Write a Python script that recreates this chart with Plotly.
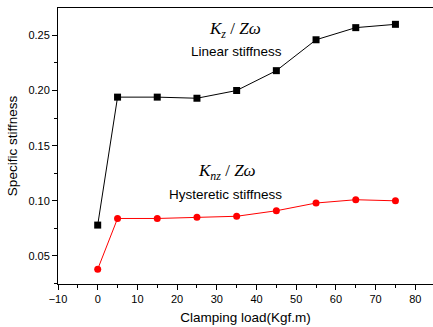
import plotly.graph_objects as go

clamping_load = [0, 5, 15, 25, 35, 45, 55, 65, 75]
linear_stiffness = [0.078, 0.194, 0.194, 0.193, 0.200, 0.218, 0.246, 0.257, 0.260]
hysteretic_stiffness = [0.038, 0.084, 0.084, 0.085, 0.086, 0.091, 0.098, 0.101, 0.100]
x_ticks = [-10, 0, 10, 20, 30, 40, 50, 60, 70, 80]
y_ticks = [0.05, 0.10, 0.15, 0.20, 0.25]

fig = go.Figure()
fig.add_trace(go.Scatter(x=clamping_load, y=linear_stiffness, mode="lines+markers",
                         line=dict(color="black", width=1),
                         marker=dict(symbol="square", size=7, color="black"),
                         name="Linear stiffness", showlegend=False))
fig.add_trace(go.Scatter(x=clamping_load, y=hysteretic_stiffness, mode="lines+markers",
                         line=dict(color="#ff0000", width=1),
                         marker=dict(symbol="circle", size=7, color="#ff0000"),
                         name="Hysteretic stiffness", showlegend=False))

serif = "Liberation Serif, Times New Roman, serif"
sans = "Liberation Sans, Arial, sans-serif"
fig.add_annotation(x=34.5, y=0.2552, text="<i>K</i><sub><i>z</i></sub> / <i>Zω</i>",
                   showarrow=False, font=dict(family=serif, size=17, color="black"))
fig.add_annotation(x=35.0, y=0.2352, text="Linear stiffness",
                   showarrow=False, font=dict(family=sans, size=13.5, color="black"))
fig.add_annotation(x=32.5, y=0.1264, text="<i>K</i><sub><i>nz</i></sub> / <i>Zω</i>",
                   showarrow=False, font=dict(family=serif, size=17, color="black"))
fig.add_annotation(x=32.3, y=0.1056, text="Hysteretic stiffness",
                   showarrow=False, font=dict(family=sans, size=13.5, color="black"))

fig.update_layout(
    width=433, height=327,
    margin=dict(l=58, r=0, t=8, b=43),
    paper_bgcolor="white", plot_bgcolor="white",
    font=dict(family=sans, size=11, color="black"),
    xaxis=dict(range=[-10, 84.46], tickvals=x_ticks, ticks="outside", ticklen=5,
               tickwidth=1, tickcolor="black", showline=True, linecolor="black",
               linewidth=1, mirror=True, showgrid=False, zeroline=False,
               minor=dict(dtick=5, ticks="outside", ticklen=3, tickcolor="black", showgrid=False),
               title=dict(text="Clamping load(Kgf.m)", font=dict(size=13.5), standoff=8),
               tickfont=dict(size=11)),
    yaxis=dict(range=[0.0246, 0.2748], tickvals=y_ticks, tickformat=".2f",
               ticks="outside", ticklen=5, tickwidth=1, tickcolor="black",
               showline=True, linecolor="black", linewidth=1, showgrid=False,
               zeroline=False,
               minor=dict(dtick=0.025, tick0=0, ticks="outside", ticklen=3, tickcolor="black", showgrid=False),
               title=dict(text="Specific stiffness", font=dict(size=13.5), standoff=7),
               tickfont=dict(size=11)),
)

fig.write_html("out.html")
